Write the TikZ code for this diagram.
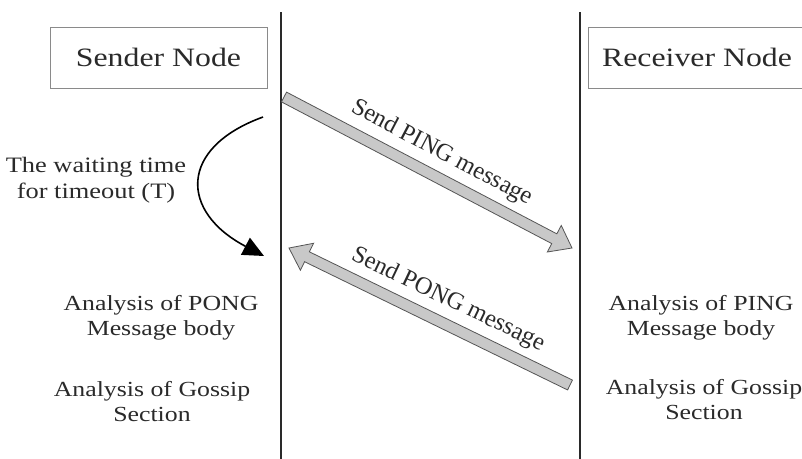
\documentclass[tikz,border=0pt]{standalone}
\usepackage{fontspec}
\setmainfont[FakeStretch=1.2]{Liberation Serif}
\newfontfamily\plainserif{Liberation Serif}
\usetikzlibrary{calc,arrows.meta}
\definecolor{ink}{HTML}{2A2A2A}
\definecolor{boxline}{HTML}{8A8A8A}
\definecolor{fatfill}{HTML}{C8C8C8}
\definecolor{fatline}{HTML}{555555}
\begin{document}
\begin{tikzpicture}[x=1pt,y=-1pt,
  every node/.style={text=ink},
  lifeline/.style={draw=ink,line width=2.2pt},
  nodebox/.style={draw=boxline,line width=1pt,minimum width=217pt,minimum height=61pt,font=\fontsize{26.5}{30}\selectfont,inner sep=0pt},
  note/.style={align=center,font=\fontsize{21.5}{25}\selectfont,inner sep=0pt},
  msglabel/.style={font=\plainserif\fontsize{24.5}{28}\selectfont,inner sep=0pt},
  fatarrow/.style={fill=fatfill,draw=fatline,line width=0.8pt,line join=miter},
  waitarrow/.style={draw=black,line width=1.6pt,-{Triangle[length=21pt,width=19pt]}}]

\useasboundingbox (0,0) rectangle (802,458);
\fill[white] (0,0) rectangle (802,458);
\clip (0,0) rectangle (802,458);

% lifelines
\coordinate (Ltop) at (281,12); \coordinate (Lbot) at (281,460);
\coordinate (Rtop) at (580,12); \coordinate (Rbot) at (580,460);
\draw[lifeline] (Ltop) -- (Lbot);
\draw[lifeline] (Rtop) -- (Rbot);

% node boxes
\node[nodebox] (sender) at (158.5,57.5) {Sender Node};
\node[nodebox] (receiver) at (697,57.5) {Receiver Node};

% PING arrow
\coordinate (pingS) at (284,97);
\coordinate (pingE) at (572,248);
\coordinate (pingB) at ($(pingE)!20pt!(pingS)$);
\draw[fatarrow] ($(pingS)!5.5pt!90:(pingE)$) -- ($(pingB)!5.5pt!90:(pingE)$) -- ($(pingB)!15pt!90:(pingE)$) -- (pingE) -- ($(pingB)!15pt!-90:(pingE)$) -- ($(pingB)!5.5pt!-90:(pingE)$) -- ($(pingS)!5.5pt!-90:(pingE)$) -- cycle;
\node[msglabel,rotate=-27.7] (pinglabel) at (442,153) {Send PING message};

% PONG arrow
\coordinate (pongS) at (570,385);
\coordinate (pongE) at (289,248);
\coordinate (pongB) at ($(pongE)!20pt!(pongS)$);
\draw[fatarrow] ($(pongS)!5.5pt!90:(pongE)$) -- ($(pongB)!5.5pt!90:(pongE)$) -- ($(pongB)!15pt!90:(pongE)$) -- (pongE) -- ($(pongB)!15pt!-90:(pongE)$) -- ($(pongB)!5.5pt!-90:(pongE)$) -- ($(pongS)!5.5pt!-90:(pongE)$) -- cycle;
\node[msglabel,rotate=-25.5] (ponglabel) at (448,300) {Send PONG message};

% waiting time
\node[note,font=\fontsize{22}{26}\selectfont] (wait) at (96,180) {The waiting time\\for timeout (T)};
\coordinate (wS) at (263,117);
\coordinate (wE) at (264,256);
\draw[waitarrow] (wS) .. controls (178,148) and (180,212) .. (wE);

% analysis notes
\node[note] (pongbody) at (161,317.4) {Analysis of PONG\\Message body};
\node[note] (gossipL) at (152,402) {Analysis of Gossip\\Section};
\node[note] (pingbody) at (701,317.4) {Analysis of PING\\Message body};
\node[note] (gossipR) at (704,400) {Analysis of Gossip\\Section};
\end{tikzpicture}
\end{document}
